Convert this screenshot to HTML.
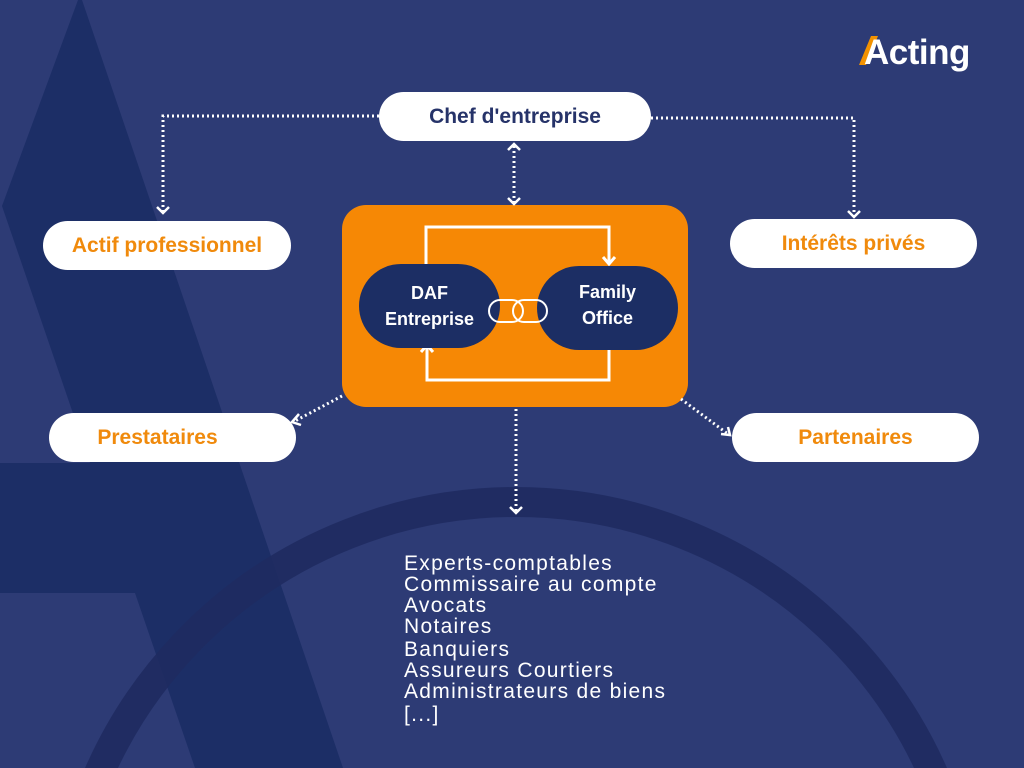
<!DOCTYPE html>
<html style="margin:0;width:1024px;height:768px;overflow:hidden"><head><meta charset="utf-8"><style>
body{margin:0;width:1024px;height:768px;overflow:hidden;background:#2d3b75;font-family:"Liberation Sans",sans-serif;position:relative}
.pill{position:absolute;background:#fff;border-radius:25px;display:flex;align-items:center;justify-content:center;font-weight:bold;font-size:21px;color:#f08a0c}
.list{position:absolute;left:404px;top:553px;color:#fff;font-size:21px;letter-spacing:1.3px;line-height:21px;white-space:nowrap}
</style></head><body>
<svg width="1024" height="768" style="position:absolute;left:0;top:0">
<polygon points="78,0 82,0 343,768 195,768 135,593 0,593 0,463 90,463 2,206" fill="#1c2e66"/>
<circle cx="516" cy="958" r="456" fill="none" stroke="#1f2b60" stroke-width="30" opacity="0.9"/>
<rect x="342" y="205" width="346" height="202" rx="24" fill="#f68805"/>
<g stroke="#fff" stroke-width="3" fill="none">
<polyline points="426,265 426,227 609,227 609,264"/>
<polyline points="603,257 609,264 615,257"/>
<polyline points="609,350 609,380 427,380 427,345"/>
<polyline points="421,352 427,345 433,352"/>
</g>
<rect x="359" y="264" width="141" height="84" rx="42" fill="#1c2e64"/>
<rect x="537" y="266" width="141" height="84" rx="42" fill="#1c2e64"/>
<g stroke="#fff" stroke-width="2" fill="none">
<rect x="489" y="300" width="34" height="22" rx="11"/>
<rect x="513" y="300" width="34" height="22" rx="11"/>
</g>
<g stroke="#fff" stroke-width="3" fill="none" stroke-dasharray="2 3">
<polyline points="379,116 163,116 163,212"/>
<polyline points="651,118 854,118 854,216"/>
<line x1="514" y1="146" x2="514" y2="202"/>
<line x1="342" y1="396" x2="295" y2="421"/>
<line x1="681" y1="399" x2="728" y2="434"/>
<line x1="516" y1="409" x2="516" y2="512"/>
</g>
<g stroke="#fff" stroke-width="2.5" fill="none">
<polyline points="157,207 163,213 169,207"/>
<polyline points="848,211 854,217 860,211"/>
<polyline points="508,150 514,144 520,150"/>
<polyline points="508,198 514,204 520,198"/>
<polyline points="510,507 516,513 522,507"/>
<polyline points="299,414 292,422 301,425"/>
<polyline points="721,434 730,435 728,427"/>
</g>
<polygon points="859,65 866,65 878,36 871,36" fill="#f39200"/>
</svg>
<div style="position:absolute;left:864px;top:33px;color:#fff;font-weight:bold;font-size:35px;letter-spacing:-0.5px;line-height:40px">Acting</div>
<div class="pill" style="left:379px;top:92px;width:272px;height:49px;color:#263369">Chef d'entreprise</div>
<div class="pill" style="left:43px;top:221px;width:248px;height:49px">Actif professionnel</div>
<div class="pill" style="left:730px;top:219px;width:247px;height:49px">Intérêts privés</div>
<div class="pill" style="left:49px;top:413px;width:247px;height:49px;padding-right:30px;box-sizing:border-box">Prestataires</div>
<div class="pill" style="left:732px;top:413px;width:247px;height:49px">Partenaires</div>
<div style="position:absolute;left:359px;top:280px;width:141px;text-align:center;color:#fff;font-weight:bold;font-size:18px;line-height:26px">DAF<br>Entreprise</div>
<div style="position:absolute;left:537px;top:279px;width:141px;text-align:center;color:#fff;font-weight:bold;font-size:18px;line-height:26px">Family<br>Office</div>
<div class="list">Experts-comptables<br>Commissaire au compte<br>Avocats<br>Notaires<br><div style="margin-top:2px">Banquiers</div>Assureurs Courtiers<br>Administrateurs de biens<br><div style="margin-top:2px">[...]</div></div>
</body></html>
